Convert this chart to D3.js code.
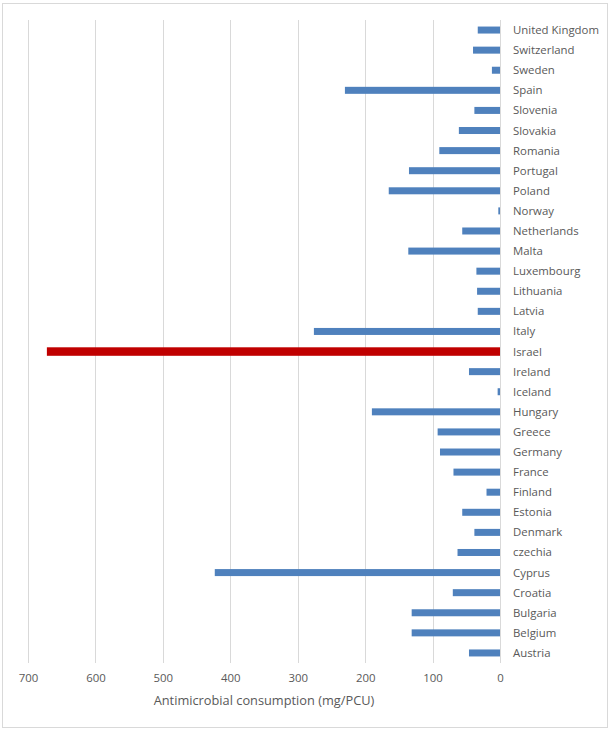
<!DOCTYPE html>
<html>
<head>
<meta charset="utf-8">
<script src="https://cdn.jsdelivr.net/npm/d3@7"></script>
<style>
  html, body { margin: 0; padding: 0; background: #fff; }
  svg { display: block; font-family: "Open Sans", "Noto Sans", sans-serif; }
</style>
</head>
<body>
<svg id="chart" width="611" height="734"></svg>
<script>
const countries = ["United Kingdom","Switzerland","Sweden","Spain","Slovenia","Slovakia","Romania","Portugal","Poland","Norway","Netherlands","Malta","Luxembourg","Lithuania","Latvia","Italy","Israel","Ireland","Iceland","Hungary","Greece","Germany","France","Finland","Estonia","Denmark","czechia","Cyprus","Croatia","Bulgaria","Belgium","Austria"];
const values = [33,40,12,230,38,61,90,135,165,2.5,56,136,35,34,33,276,672,46,3.5,190,92.5,89,69,20,56,38,63,423,70,131,131,46];
const highlight = ["Israel"];
const ticks = [700,600,500,400,300,200,100,0];
const axisTitle = "Antimicrobial consumption (mg/PCU)";

const data = countries.map((c, i) => ({ country: c, value: values[i] }));
const svg = d3.select("#chart");

svg.append("rect").attr("x", 2.5).attr("y", 3.5).attr("width", 605).attr("height", 724)
  .attr("fill", "#fff").attr("stroke", "#d9d9d9").attr("stroke-width", 1);

const x = d3.scaleLinear().domain([700, 0]).range([28, 500]);
const y = d3.scaleBand().domain(countries).range([20, 663]);

// gridlines
svg.append("g").selectAll("line").data(ticks).join("line")
  .attr("x1", d => Math.round(x(d)) + 0.5).attr("x2", d => Math.round(x(d)) + 0.5)
  .attr("y1", 20).attr("y2", 663)
  .attr("stroke", "#d9d9d9").attr("stroke-width", 1);

// bars
svg.append("g").selectAll("rect").data(data).join("rect")
  .attr("x", d => x(d.value))
  .attr("width", d => x(0) - x(d.value))
  .attr("y", d => {
    const h = highlight.includes(d.country) ? 8.5 : 7;
    return y(d.country) + y.bandwidth() / 2 - h / 2;
  })
  .attr("height", d => highlight.includes(d.country) ? 8.5 : 7)
  .attr("fill", d => highlight.includes(d.country) ? "#C00000" : "#4F81BD");

// category labels
svg.append("g").selectAll("text").data(countries).join("text")
  .attr("x", 513)
  .attr("y", d => y(d) + y.bandwidth() / 2)
  .attr("dy", "0.35em")
  .attr("font-size", 11.4)
  .attr("fill", "#595959")
  .text(d => d);

// x axis tick labels
const xAxis = d3.axisBottom(x).tickValues(ticks).tickSize(0).tickPadding(0);
const gx = svg.append("g").attr("transform", "translate(0,674)").call(xAxis);
gx.select(".domain").remove();
gx.selectAll("text").attr("font-size", 11.4).attr("fill", "#595959")
  .attr("font-family", "\"Open Sans\", \"Noto Sans\", sans-serif");

// axis title
svg.append("text").attr("x", (x(700) + x(0)) / 2).attr("y", 705)
  .attr("text-anchor", "middle").attr("font-size", 12.8).attr("fill", "#595959")
  .text(axisTitle);
</script>
</body>
</html>
